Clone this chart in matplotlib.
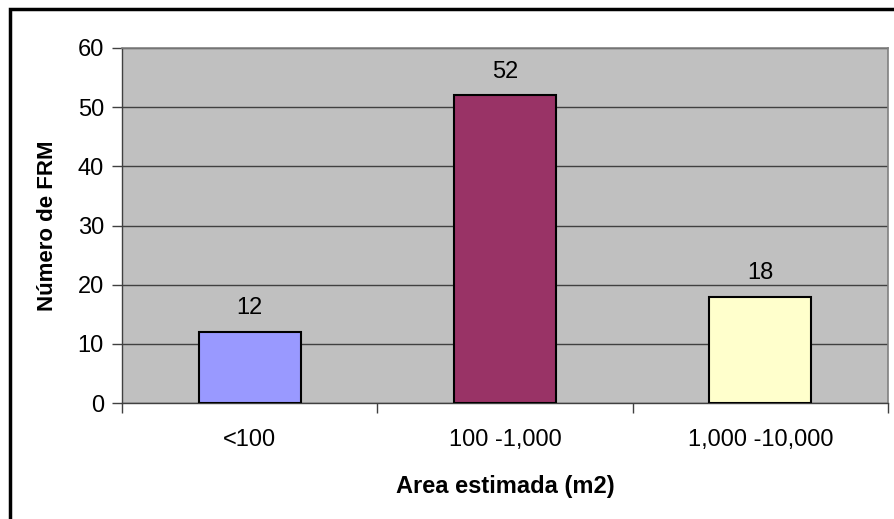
import matplotlib.pyplot as plt
from matplotlib.patches import Rectangle

categories = ['<100', '100 -1,000', '1,000 -10,000']
counts = [12, 52, 18]
colors = ['#9999FF', '#993366', '#FFFFCC']

plt.rcParams['font.family'] = 'Liberation Sans'
plt.rcParams['font.size'] = 17

fig = plt.figure(figsize=(8.94, 5.19), dpi=100)
W, H = 894, 519
ax = fig.add_axes([122 / W, 1 - 403 / H, (888 - 122) / W, (403 - 48) / H])
ax.set_facecolor('#C0C0C0')

x = range(len(categories))
ax.bar(x, counts, width=0.40, color=colors, edgecolor='black', linewidth=1.5, zorder=3)
for xi, v in zip(x, counts):
    ax.annotate(str(v), (xi, v), xytext=(0, 9), textcoords='offset points',
                ha='center', va='bottom')

ax.set_xlim(-0.5, 2.5)
ax.set_ylim(0, 60)
ax.set_yticks(range(0, 61, 10))
ax.yaxis.grid(True, color='#404040', linewidth=1.0, zorder=0)
ax.set_axisbelow(True)

ax.set_xticks(x)
ax.set_xticklabels(categories)
ax.set_xticks([-0.5, 0.5, 1.5, 2.5], minor=True)
ax.tick_params(axis='x', which='major', length=0, pad=19)
ax.tick_params(axis='x', which='minor', length=7, width=1, color='#404040', direction='out')
ax.tick_params(axis='y', length=7, width=1, color='#404040', pad=6)

for s in ['top', 'right']:
    ax.spines[s].set_color('#808080')
    ax.spines[s].set_linewidth(1.2)
for s in ['left', 'bottom']:
    ax.spines[s].set_color('#404040')
    ax.spines[s].set_linewidth(1.0)

ax.set_xlabel('Area estimada (m2)', fontweight='bold', labelpad=17)
ax.set_ylabel('Número de FRM', fontweight='bold', labelpad=14, fontsize=16)

fig.patches.append(Rectangle((10 / W, -0.1), 1.2, 1 - 9 / H + 0.1, transform=fig.transFigure,
                             fill=False, edgecolor='black', linewidth=2.5))

fig.savefig('out.png', dpi=100)
